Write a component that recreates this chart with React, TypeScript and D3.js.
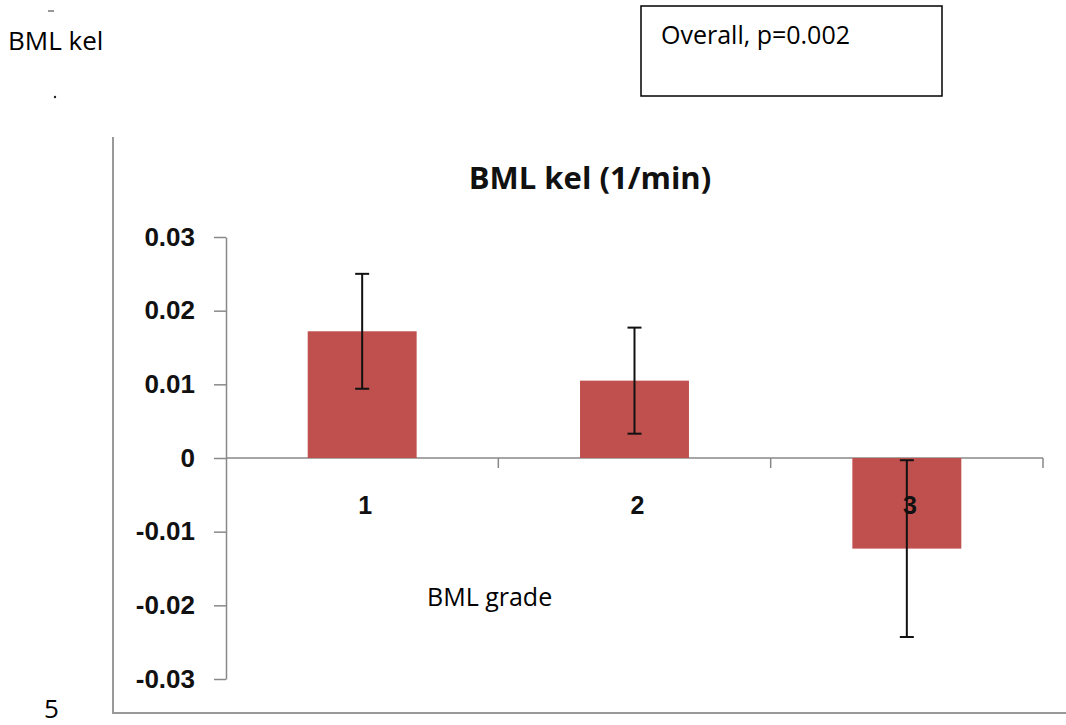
import * as d3 from "d3";
import React, {useEffect, useRef} from "react";

// BML grade categories and kel means with error
const grades = ["1", "2", "3"];
const kelMean = [0.0172, 0.0105, -0.0123];
const kelErr = [0.0078, 0.0072, 0.0120];
const yTicks = [-0.03, -0.02, -0.01, 0, 0.01, 0.02, 0.03];

const W = 1066, H = 725;

const App = () => {
    const ref = useRef(null);

    useEffect(() => {
        const svg = d3.select(ref.current);
        svg.selectAll("*").remove();

        const page = "'Open Sans', sans-serif";
        const chart = "'Liberation Sans', Arial, sans-serif";

        // page text around the chart
        svg.append("text").attr("x", 8).attr("y", 50)
            .attr("font-family", page).attr("font-size", 26).text("BML kel");
        svg.append("line").attr("x1", 48).attr("x2", 54).attr("y1", 11).attr("y2", 11)
            .attr("stroke", "#333").attr("stroke-width", 1);
        svg.append("circle").attr("cx", 55).attr("cy", 97).attr("r", 1.2).attr("fill", "#222");
        svg.append("text").attr("x", 44).attr("y", 718)
            .attr("font-family", page).attr("font-size", 26).text("5");

        svg.append("rect").attr("x", 641).attr("y", 6).attr("width", 301).attr("height", 90)
            .attr("fill", "none").attr("stroke", "#000").attr("stroke-width", 1.5);
        svg.append("text").attr("x", 661).attr("y", 44)
            .attr("font-family", page).attr("font-size", 25).text("Overall, p=0.002");

        // chart frame (left and bottom edges visible)
        svg.append("path").attr("d", `M113,137V713H${W}`)
            .attr("fill", "none").attr("stroke", "#999").attr("stroke-width", 2);

        const y = d3.scaleLinear().domain([-0.03, 0.03]).range([679, 237]);
        const x = d3.scaleBand().domain(grades).range([226, 1043])
            .paddingInner(0.6).paddingOuter(0.3);
        const step = x.step();

        // y axis
        const fmt = d => d === 0 ? "0" : (d < 0 ? "-" : "") + d3.format(".2f")(Math.abs(d));
        const yAxis = svg.append("g")
            .attr("transform", "translate(226,0)")
            .call(d3.axisLeft(y).tickValues(yTicks).tickSize(12).tickSizeOuter(0).tickPadding(19)
                .tickFormat(fmt));
        yAxis.select(".domain").attr("stroke", "#888").attr("stroke-width", 1.5);
        yAxis.selectAll(".tick line").attr("stroke", "#888").attr("stroke-width", 1.5);
        yAxis.selectAll(".tick text").attr("fill", "#111")
            .attr("font-family", chart).attr("font-weight", "bold").attr("font-size", 26);

        // x axis along zero with category boundary ticks
        const y0 = y(0);
        svg.append("line").attr("x1", 226).attr("x2", 1043).attr("y1", y0).attr("y2", y0)
            .attr("stroke", "#888").attr("stroke-width", 1.5);
        svg.selectAll(".xtick").data(grades).enter().append("line")
            .attr("x1", d => x(d) + x.bandwidth() / 2 + step / 2)
            .attr("x2", d => x(d) + x.bandwidth() / 2 + step / 2)
            .attr("y1", y0).attr("y2", y0 + 10)
            .attr("stroke", "#888").attr("stroke-width", 1.5);

        // bars
        svg.selectAll(".bar").data(grades).enter().append("rect")
            .attr("x", d => x(d))
            .attr("width", x.bandwidth())
            .attr("y", (d, i) => y(Math.max(0, kelMean[i])))
            .attr("height", (d, i) => Math.abs(y(kelMean[i]) - y0))
            .attr("fill", "#C0504D");

        // category labels
        svg.selectAll(".xlab").data(grades).enter().append("text")
            .attr("x", d => x(d) + x.bandwidth() / 2 + 3)
            .attr("y", 514)
            .attr("text-anchor", "middle")
            .attr("font-family", chart).attr("font-weight", "bold").attr("font-size", 25)
            .attr("fill", "#111")
            .text(d => d);

        // error bars
        const eb = svg.selectAll(".err").data(grades).enter().append("g");
        eb.append("line")
            .attr("x1", d => x(d) + x.bandwidth() / 2).attr("x2", d => x(d) + x.bandwidth() / 2)
            .attr("y1", (d, i) => y(kelMean[i] + kelErr[i]))
            .attr("y2", (d, i) => y(kelMean[i] - kelErr[i]))
            .attr("stroke", "#111").attr("stroke-width", 2);
        [1, -1].forEach(s => {
            eb.append("line")
                .attr("x1", d => x(d) + x.bandwidth() / 2 - 7).attr("x2", d => x(d) + x.bandwidth() / 2 + 7)
                .attr("y1", (d, i) => y(kelMean[i] + s * kelErr[i]))
                .attr("y2", (d, i) => y(kelMean[i] + s * kelErr[i]))
                .attr("stroke", "#111").attr("stroke-width", 2);
        });

        // title and x label
        svg.append("text").attr("x", 590).attr("y", 189).attr("text-anchor", "middle")
            .attr("font-family", page).attr("font-weight", "bold").attr("font-size", 31)
            .attr("fill", "#111").text("BML kel (1/min)");
        svg.append("text").attr("x", 427).attr("y", 606)
            .attr("font-family", page).attr("font-size", 25).text("BML grade");
    }, []);

    return (
        <svg ref={ref} width={W} height={H}
             style={{position: "absolute", left: 0, top: 0, background: "#fff"}}/>
    );
};

export default App;
